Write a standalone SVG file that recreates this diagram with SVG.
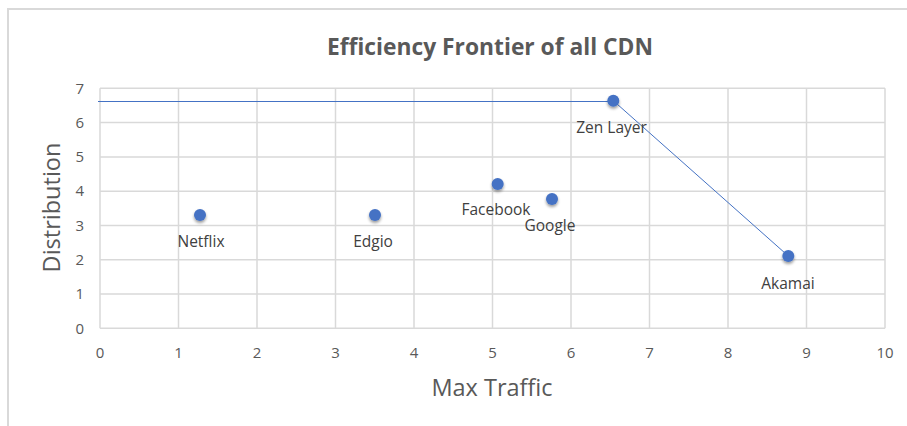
<svg xmlns="http://www.w3.org/2000/svg" width="907" height="426" viewBox="0 0 907 426">
<style>
.grid{stroke:#d9d9d9;stroke-width:1.5;fill:none}
.tick{font-family:"Open Sans","Liberation Sans",sans-serif;font-size:15px;fill:#595959}
.lbl{font-family:"Open Sans","Liberation Sans",sans-serif;font-size:15.5px;fill:#404040;text-anchor:middle}
.axt{font-family:"Open Sans","Liberation Sans",sans-serif;font-size:23.5px;fill:#595959;text-anchor:middle}
.dot{fill:#4472c4;filter:url(#sh)}
.conn{stroke:#4472c4;stroke-width:1;fill:none}
</style>
<defs>
<filter id="sh" x="-100%" y="-100%" width="300%" height="300%">
<feGaussianBlur in="SourceAlpha" stdDeviation="1.5"/>
<feOffset dx="0" dy="2" result="b"/>
<feComponentTransfer><feFuncA type="linear" slope="0.4"/></feComponentTransfer>
<feMerge><feMergeNode/><feMergeNode in="SourceGraphic"/></feMerge>
</filter>
</defs>
<rect x="0" y="0" width="907" height="426" fill="#ffffff"/>
<rect x="8" y="9" width="920" height="430" fill="#ffffff" stroke="#d9d9d9" stroke-width="2"/>
<text x="490" y="55" text-anchor="middle" font-family="'Open Sans','Liberation Sans',sans-serif" font-weight="bold" font-size="22.8px" fill="#595959">Efficiency Frontier of all CDN</text>
<g id="grid">
<path class="grid" d="M100,88.3H885M100,122.6H885M100,156.9H885M100,191.2H885M100,225.4H885M100,259.7H885M100,294H885M100,328.3H885"/>
<path class="grid" d="M100,88.3V328.3M178.5,88.3V328.3M257,88.3V328.3M335.5,88.3V328.3M414,88.3V328.3M492.5,88.3V328.3M571,88.3V328.3M649.5,88.3V328.3M728,88.3V328.3M806.5,88.3V328.3M885,88.3V328.3"/>
</g>
<g id="yticks" class="tick" text-anchor="end">
<text x="84" y="93.5">7</text><text x="84" y="127.8">6</text><text x="84" y="162.1">5</text><text x="84" y="196.4">4</text><text x="84" y="230.6">3</text><text x="84" y="264.9">2</text><text x="84" y="299.2">1</text><text x="84" y="333.5">0</text>
</g>
<g id="xticks" class="tick" text-anchor="middle">
<text x="100" y="357.5">0</text><text x="178.5" y="357.5">1</text><text x="257" y="357.5">2</text><text x="335.5" y="357.5">3</text><text x="414" y="357.5">4</text><text x="492.5" y="357.5">5</text><text x="571" y="357.5">6</text><text x="649.5" y="357.5">7</text><text x="728" y="357.5">8</text><text x="806.5" y="357.5">9</text><text x="885" y="357.5">10</text>
</g>
<text class="axt" x="492" y="396">Max Traffic</text>
<text class="axt" transform="translate(60,207.5) rotate(-90)">Distribution</text>
<g id="connectors">
<path class="conn" d="M98,101.5H613.3"/>
<path class="conn" d="M613.3,100.7L788.3,256"/>
</g>
<g id="netflix"><circle class="dot" cx="200" cy="215" r="6"/><text class="lbl" x="201" y="247">Netflix</text></g>
<g id="edgio"><circle class="dot" cx="375" cy="215" r="6"/><text class="lbl" x="373" y="247">Edgio</text></g>
<g id="facebook"><circle class="dot" cx="497.7" cy="184" r="6"/><text class="lbl" x="496" y="214.5">Facebook</text></g>
<g id="google"><circle class="dot" cx="552" cy="199" r="6"/><text class="lbl" x="550" y="231">Google</text></g>
<g id="zenlayer"><circle class="dot" cx="613.3" cy="100.7" r="6"/><text class="lbl" x="611.5" y="132.5">Zen Layer</text></g>
<g id="akamai"><circle class="dot" cx="788.3" cy="256" r="6"/><text class="lbl" x="788" y="288.5">Akamai</text></g>
</svg>
